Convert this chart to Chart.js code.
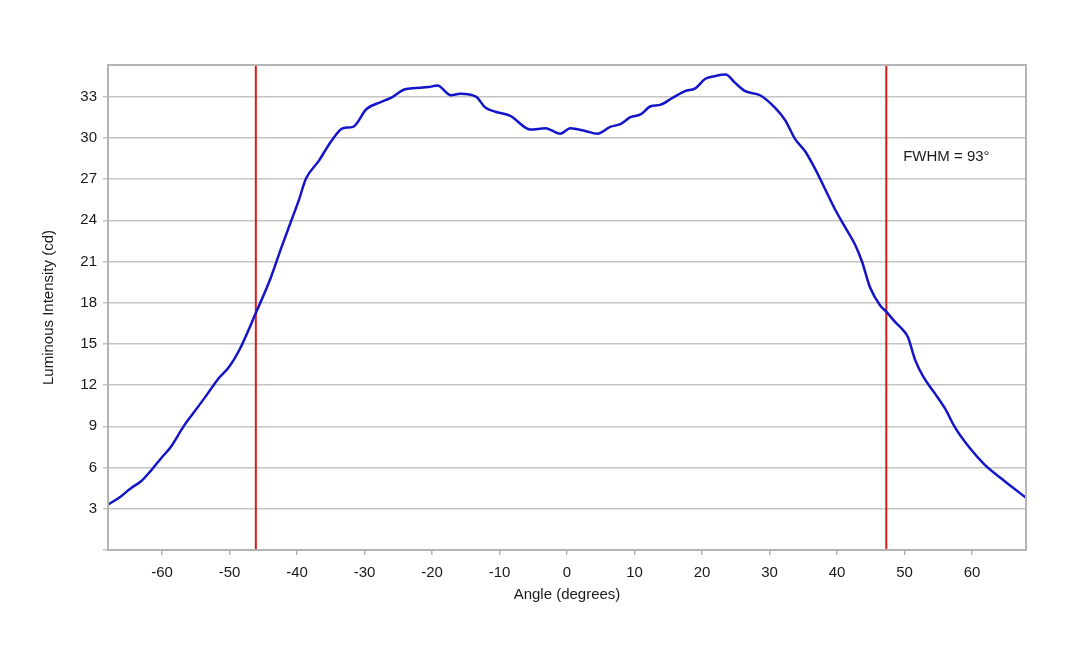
<!DOCTYPE html>
<html>
<head>
<meta charset="utf-8">
<script src="https://cdn.jsdelivr.net/npm/chart.js@4.4.1/dist/chart.umd.min.js"></script>
<style>
  html, body { margin: 0; padding: 0; background: #fff; }
  canvas { display: block; }
</style>
</head>
<body>
<canvas id="fwhmChart" width="1080" height="648"></canvas>
<script>
// angle (deg) / intensite (cd)
const angles = [-68,-66.1,-64.6,-63.1,-61.6,-60.1,-58.7,-56.8,-55.3,-53.5,-51.6,-50.1,-48.6,-46.1,-43.9,-42.4,-40.9,-39.7,-38.7,-36.8,-35.0,-33.2,-31.7,-29.7,-27.6,-26.1,-24.2,-22.9,-20.5,-19.2,-17.2,-15.8,-13.5,-12.1,-10.6,-8.4,-5.4,-3.2,-1.0,0.5,2.7,4.5,6.4,7.9,9.4,10.9,12.4,13.8,15.6,17.5,19.0,20.5,22.0,23.5,24.9,26.4,28.6,30.8,32.3,33.8,35.3,36.8,38.3,39.7,41.2,42.7,43.7,44.9,46.4,47.4,48.6,49.8,50.5,51.6,52.8,54.5,56.0,57.5,59.7,61.9,64.1,65.9,68];
const intensite = [3.3,3.9,4.5,5.0,5.8,6.7,7.5,9.0,10.0,11.2,12.5,13.3,14.5,17.25,19.8,21.9,23.9,25.5,27.0,28.3,29.7,30.7,30.8,32.1,32.6,32.9,33.5,33.6,33.7,33.8,33.1,33.2,33.0,32.2,31.9,31.6,30.6,30.7,30.3,30.7,30.5,30.3,30.8,31.0,31.5,31.7,32.3,32.4,32.9,33.4,33.6,34.3,34.5,34.6,34.0,33.4,33.1,32.2,31.3,29.9,29.0,27.7,26.2,24.8,23.5,22.2,21.0,19.1,17.8,17.3,16.6,16.0,15.5,13.8,12.6,11.4,10.3,8.9,7.4,6.2,5.3,4.6,3.8];
const demiMax = [-46.1, 47.3];
const xLimites = [-68, 68];
const yLimites = [0, 35.3];
const xPas = 10;
const yPas = 3;
const labelFwhm = "FWHM = 93°";

Chart.defaults.font.family = '"Liberation Sans", Arial, sans-serif';
Chart.defaults.font.size = 15;
Chart.defaults.color = "#1a1a1a";

const cadre = {
  id: "cadre",
  afterDatasetsDraw(chart) {
    const { ctx, chartArea, scales } = chart;
    ctx.save();
    ctx.strokeStyle = "#b4b4b4";
    ctx.lineWidth = 2;
    ctx.strokeRect(chartArea.left, chartArea.top, chartArea.right - chartArea.left, chartArea.bottom - chartArea.top);
    // texte FWHM
    ctx.fillStyle = "#1a1a1a";
    ctx.font = '15px "Liberation Sans", Arial, sans-serif';
    ctx.textBaseline = "middle";
    ctx.fillText(labelFwhm, scales.x.getPixelForValue(49.8), scales.y.getPixelForValue(28.6));
    ctx.restore();
  }
};

function afficherChart() {
  const courbe = angles.map((a, i) => ({ x: a, y: intensite[i] }));
  const verticales = demiMax.map(a => ({
    data: [{ x: a, y: yLimites[0] }, { x: a, y: yLimites[1] }],
    borderColor: "#dd1a1a",
    borderWidth: 2,
    pointRadius: 0,
    tension: 0
  }));

  new Chart(document.getElementById("fwhmChart").getContext("2d"), {
    type: "line",
    data: {
      datasets: [
        {
          data: courbe,
          borderColor: "#1414c8",
          borderWidth: 2.5,
          pointRadius: 0,
          cubicInterpolationMode: "monotone"
        },
        ...verticales
      ]
    },
    options: {
      responsive: false,
      animation: false,
      layout: { padding: { top: 65, right: 54, left: 36, bottom: 40 } },
      plugins: { legend: { display: false }, tooltip: { enabled: false } },
      scales: {
        x: {
          type: "linear",
          min: xLimites[0],
          max: xLimites[1],
          afterFit: s => { s.height = 58; },
          ticks: { stepSize: xPas, includeBounds: false, padding: 9, maxRotation: 0 },
          grid: { drawOnChartArea: false, color: "#b4b4b4", lineWidth: 1.5, tickLength: 5 },
          border: { color: "#b4b4b4", width: 2 },
          title: { display: true, text: "Angle (degrees)", font: { size: 15 } }
        },
        y: {
          min: yLimites[0],
          max: yLimites[1],
          afterFit: s => { s.width = 72; },
          ticks: {
            stepSize: yPas,
            includeBounds: false,
            padding: 6,
            callback: v => (v === 0 ? "" : v)
          },
          grid: { color: "#c4c4c4", lineWidth: 1.5, tickLength: 5 },
          border: { color: "#b4b4b4", width: 2 },
          title: { display: true, text: "Luminous Intensity (cd)", font: { size: 15 } }
        }
      }
    },
    plugins: [cadre]
  });
}

afficherChart();
</script>
</body>
</html>
